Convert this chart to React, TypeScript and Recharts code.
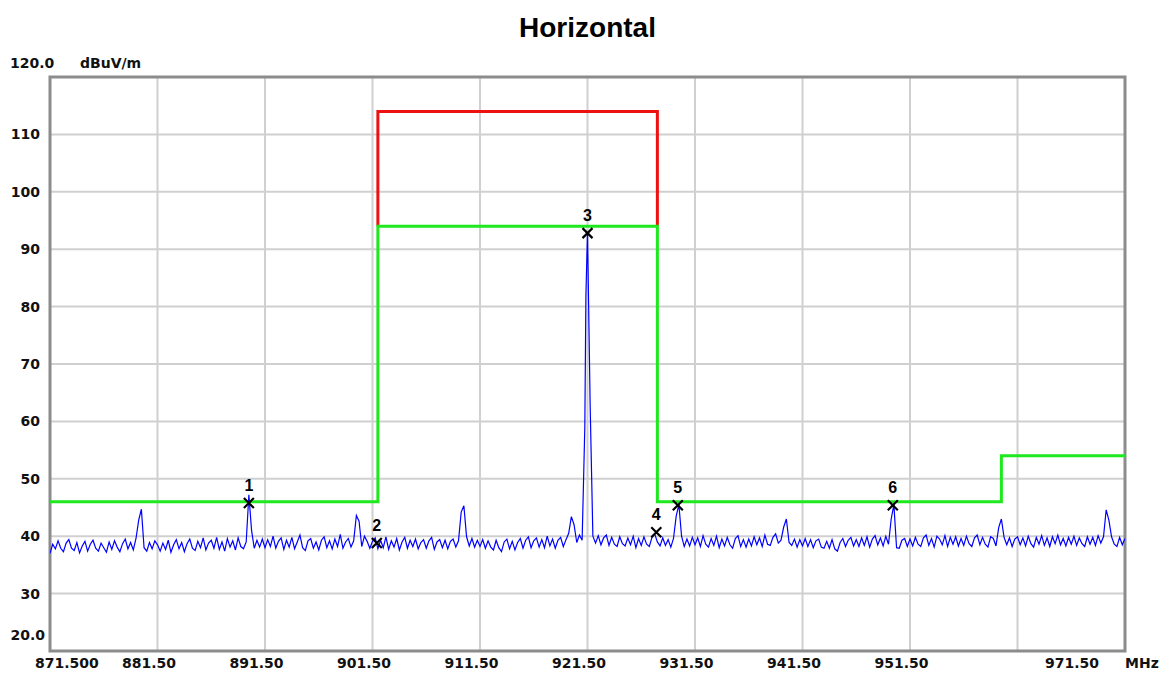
import React from 'react';
import { ComposedChart, Line, Scatter, XAxis, YAxis, CartesianGrid, ReferenceArea } from 'recharts';

// Trace sampled every 0.25 MHz starting at 871.5 MHz (dBuV/m)
const START_FREQ = 871.5;
const STEP_MHZ = 0.25;
const traceLevels = [
  37.0, 38.6, 37.8, 39.2, 37.9, 37.3, 38.8, 39.4, 37.9, 37.5, 38.9, 37.1, 38.3, 39.1, 37.4, 38.6, 39.3, 37.9, 37.4, 38.8,
  38.0, 37.2, 39.0, 37.7, 39.2, 38.1, 37.3, 38.7, 39.5, 37.8, 38.9, 37.6, 39.6, 42.8, 44.7, 38.0, 37.4, 38.9, 37.8, 39.2,
  38.5, 37.4, 38.8, 37.7, 39.3, 37.2, 38.5, 39.4, 37.8, 38.9, 37.3, 38.7, 39.5, 37.9, 37.5, 39.1, 38.0, 39.7, 37.6, 38.8,
  39.3, 37.9, 39.8, 37.7, 39.0, 37.4, 39.6, 38.1, 39.2, 37.6, 39.7, 38.2, 37.8, 39.0, 47.2, 41.0, 37.9, 39.3, 38.1, 39.5,
  38.0, 39.4, 38.2, 40.0, 37.9, 39.1, 39.7, 37.7, 39.3, 38.1, 39.8, 37.8, 39.0, 40.2, 38.0, 37.5, 39.2, 39.6, 37.9, 39.0,
  37.6, 39.3, 39.9, 38.0, 39.2, 37.8, 39.5, 38.2, 40.3, 37.9, 39.0, 39.6, 38.1, 39.2, 43.6, 42.6, 38.2, 40.0, 39.1, 37.9,
  39.1, 39.7, 37.8, 39.3, 38.0, 39.9, 37.7, 39.2, 38.1, 39.6, 37.6, 39.0, 39.8, 37.9, 39.3, 38.2, 39.5, 37.8, 38.9, 39.4,
  37.9, 39.2, 39.8, 37.7, 39.0, 39.4, 38.0, 39.3, 37.8, 39.1, 39.5, 38.1, 39.2, 44.2, 45.3, 39.9, 38.3, 39.6, 38.1, 39.3,
  38.2, 39.4, 37.9, 39.2, 38.1, 37.6, 39.3, 38.0, 37.3, 39.0, 39.5, 37.8, 39.1, 37.6, 38.9, 39.6, 37.9, 39.3, 39.9, 38.0,
  39.2, 39.7, 38.1, 39.4, 38.0, 40.0, 38.3, 39.5, 37.9, 39.3, 39.8, 38.2, 39.4, 40.5, 43.4, 42.0, 38.9, 40.2, 39.3, 59.0,
  93.0, 62.5, 40.0, 38.8, 40.1, 38.5, 39.7, 40.2, 38.4, 39.8, 38.6, 38.2, 39.9, 38.7, 38.3, 39.7, 38.5, 40.0, 38.0, 39.6,
  38.4, 39.9, 38.6, 38.2, 39.8, 40.4, 39.0, 38.3, 39.7, 38.4, 39.4, 38.1, 39.6, 43.5, 45.5, 40.0, 38.2, 39.5, 38.3, 39.8,
  38.5, 39.7, 38.2, 40.1, 38.6, 38.1, 39.6, 38.4, 40.0, 38.0, 39.5, 38.3, 39.8, 38.5, 37.9, 39.6, 40.1, 38.2, 39.4, 38.1,
  39.5, 38.3, 39.9, 38.5, 39.7, 38.2, 40.2, 38.6, 38.4, 39.8, 40.4, 38.8, 39.3, 41.6, 43.0, 38.9, 38.4, 39.5, 38.1, 39.4,
  38.3, 39.6, 38.2, 39.4, 38.0, 39.2, 39.5, 38.1, 37.9, 39.1, 37.9, 39.4, 37.8, 37.4, 38.9, 39.6, 38.2, 39.3, 39.8, 38.3,
  39.4, 38.2, 39.7, 38.4, 39.9, 38.1, 39.5, 40.1, 38.5, 39.7, 38.3, 40.0, 38.6, 43.0, 45.5, 38.0, 37.9, 39.3, 39.6, 38.2,
  39.5, 38.3, 39.8, 38.6, 38.2, 39.7, 40.2, 38.4, 39.6, 38.1, 40.0, 39.5, 38.5, 40.1, 38.2, 39.8, 38.6, 39.9, 38.3, 39.6,
  38.4, 40.0, 38.7, 38.2, 39.7, 40.2, 38.5, 39.8, 38.6, 38.1, 39.9, 39.6, 38.3, 41.5, 43.0, 39.8, 38.5, 39.7, 38.2, 39.5,
  39.9, 38.5, 39.7, 38.3, 40.0, 38.7, 38.1, 39.8, 38.6, 40.1, 38.4, 39.7, 38.2, 39.9, 38.7, 40.2, 38.5, 39.6, 38.3, 39.8,
  38.6, 40.0, 38.4, 39.7, 38.7, 38.2, 39.9, 38.6, 39.8, 38.4, 40.1, 38.8, 39.9, 44.6, 42.8, 39.9, 38.6, 38.2, 39.8, 38.5,
  39.6,
];

// Extra trace samples on the fundamental's skirt
const extraFreqs = [921.35];
const extraLevels = [81.7];

// Average limit (green) and peak limit (red)
const limitFreqs = [871.5, 902, 902, 928, 928, 960, 960, 971.5];
const limitLevels = [46, 46, 94, 94, 46, 46, 54, 54];
const peakLimitFreqs = [902, 902, 928, 928];
const peakLimitLevels = [94, 114, 114, 94];

// Markers
const markerIds = ['1', '2', '3', '4', '5', '6'];
const markerFreqs = [890.0, 901.9, 921.5, 927.9, 929.9, 949.9];
const markerLevels = [45.8, 38.8, 92.8, 40.7, 45.4, 45.4];

const xTicks = [871.5, 881.5, 891.5, 901.5, 911.5, 921.5, 931.5, 941.5, 951.5, 961.5, 971.5];
const yTicks = [20, 30, 40, 50, 60, 70, 80, 90, 100, 110, 120];

const traceData = [
  ...traceLevels.map((v, i) => ({ f: +(START_FREQ + i * STEP_MHZ).toFixed(2), v })),
  ...extraFreqs.map((f, i) => ({ f, v: extraLevels[i] })),
].sort((a, b) => a.f - b.f);
const limitData = limitFreqs.map((f, i) => ({ f, v: limitLevels[i] }));
const peakLimitData = peakLimitFreqs.map((f, i) => ({ f, v: peakLimitLevels[i] }));
const markerData = markerFreqs.map((f, i) => ({ f, v: markerLevels[i], id: markerIds[i] }));

const LABEL_FONT = '"DejaVu Sans", sans-serif';
const labelStyle = { fontFamily: LABEL_FONT, fontWeight: 700, fontSize: 14, fill: '#111' } as const;

const YTick = (props: any) => {
  const { y, payload } = props;
  const v = payload.value as number;
  if (v === 120) {
    return (
      <g>
        <text x={10} y={y - 9} textAnchor="start" style={labelStyle}>{v.toFixed(1)}</text>
        <text x={80} y={y - 9} textAnchor="start" style={labelStyle}>dBuV/m</text>
      </g>
    );
  }
  if (v === 20) {
    return <text x={45} y={y - 11} textAnchor="end" style={labelStyle}>{v.toFixed(1)}</text>;
  }
  return <text x={40} y={y + 5} textAnchor="end" style={labelStyle}>{v}</text>;
};

const XTick = (props: any) => {
  const { x, payload } = props;
  const v = payload.value as number;
  const ty = 668;
  if (v === 871.5) {
    return <text x={x - 15} y={ty} textAnchor="start" style={labelStyle}>{v.toFixed(3)}</text>;
  }
  if (v === 961.5) return <g />;
  if (v === 971.5) {
    return (
      <g>
        <text x={x - 53} y={ty} textAnchor="middle" style={labelStyle}>{v.toFixed(2)}</text>
        <text x={x} y={ty} textAnchor="start" style={labelStyle}>MHz</text>
      </g>
    );
  }
  return <text x={x - 8.5} y={ty} textAnchor="middle" style={labelStyle}>{v.toFixed(2)}</text>;
};

const MarkerShape = (props: any) => {
  const { cx, cy, payload } = props;
  const s = 5;
  return (
    <g>
      <path
        d={`M${cx - s},${cy - s}L${cx + s},${cy + s}M${cx + s},${cy - s}L${cx - s},${cy + s}`}
        stroke="#000"
        strokeWidth={2.2}
        fill="none"
      />
      <text
        x={cx}
        y={cy - 12}
        textAnchor="middle"
        style={{ fontFamily: '"Liberation Sans", Arial, sans-serif', fontWeight: 700, fontSize: 16, fill: '#000' }}
      >
        {payload.id}
      </text>
    </g>
  );
};

export default function App() {
  return (
    <div style={{ position: 'absolute', left: 0, top: 0, width: 1164, height: 673, background: '#fff' }}>
      <div
        style={{
          position: 'absolute',
          left: 0,
          top: 14,
          width: 1175,
          textAlign: 'center',
          fontFamily: '"Liberation Sans", Arial, sans-serif',
          fontWeight: 700,
          fontSize: 28,
          lineHeight: '28px',
          color: '#000',
        }}
      >
        Horizontal
      </div>
      <ComposedChart
        width={1164}
        height={673}
        margin={{ top: 77, right: 39, bottom: 0, left: 0 }}
        style={{ position: 'absolute', left: 0, top: 0 }}
      >
        <CartesianGrid stroke="#d0d0d0" strokeWidth={2} />
        <XAxis
          dataKey="f"
          type="number"
          domain={[871.5, 971.5]}
          ticks={xTicks}
          interval={0}
          height={22}
          axisLine={false}
          tickLine={false}
          tick={<XTick />}
          allowDataOverflow
        />
        <YAxis
          type="number"
          domain={[20, 120]}
          ticks={yTicks}
          interval={0}
          width={50}
          axisLine={false}
          tickLine={false}
          tick={<YTick />}
          allowDataOverflow
        />
        <ReferenceArea x1={871.5} x2={971.5} y1={20} y2={120} fill="none" stroke="#8c8c8c" strokeWidth={3} />
        <Line data={peakLimitData} dataKey="v" type="linear" stroke="#ee1111" strokeWidth={3} dot={false} isAnimationActive={false} />
        <Line data={limitData} dataKey="v" type="linear" stroke="#1ee81e" strokeWidth={3} dot={false} isAnimationActive={false} />
        <Line data={traceData} dataKey="v" type="linear" stroke="#0000ff" strokeWidth={1.2} dot={false} isAnimationActive={false} />
        <Scatter data={markerData} dataKey="v" shape={<MarkerShape />} isAnimationActive={false} />
      </ComposedChart>
    </div>
  );
}
